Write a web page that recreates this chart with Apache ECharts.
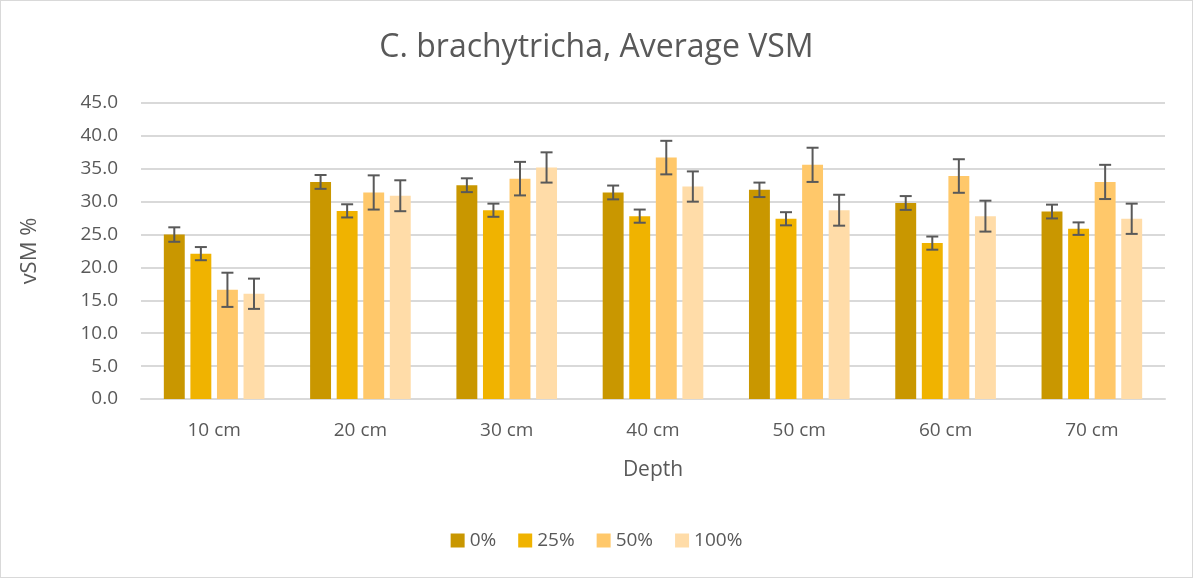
<!DOCTYPE html>
<html>
<head>
<meta charset="utf-8">
<script src="https://cdn.jsdelivr.net/npm/echarts@6/dist/echarts.min.js"></script>
<style>
  html, body { margin: 0; padding: 0; background: #fff; }
  #chart { width: 1193px; height: 578px; box-sizing: border-box; border: 1px solid #d9d9d9; }
</style>
</head>
<body>
<div id="chart"></div>
<script>
const depths = ["10 cm", "20 cm", "30 cm", "40 cm", "50 cm", "60 cm", "70 cm"];
const seriesNames = ["0%", "25%", "50%", "100%"];
const colors = ["#C99700", "#F0B300", "#FFC86A", "#FFDCA8"];

const vsm0 = [25.0, 33.0, 32.5, 31.4, 31.8, 29.8, 28.5];
const vsm25 = [22.1, 28.6, 28.7, 27.8, 27.4, 23.7, 25.9];
const vsm50 = [16.6, 31.4, 33.5, 36.7, 35.6, 33.9, 33.0];
const vsm100 = [16.0, 30.9, 35.2, 32.3, 28.7, 27.8, 27.4];

const err0 = [1.1, 1.05, 1.05, 1.05, 1.1, 1.05, 1.05];
const err25 = [1.0, 1.0, 1.0, 1.0, 1.0, 1.0, 0.95];
const err50 = [2.6, 2.6, 2.55, 2.55, 2.6, 2.55, 2.6];
const err100 = [2.3, 2.35, 2.3, 2.3, 2.35, 2.35, 2.3];

const values = [vsm0, vsm25, vsm50, vsm100];
const errors = [err0, err25, err50, err100];

const BAR_W = 0.143;  // fraction of category width
const BAR_GAP = 0.27; // fraction of bar width

let myChart = echarts.init(document.getElementById("chart"));

function errorSeries(idx) {
  let data = values[idx].map((v, i) => [i, v - errors[idx][i], v + errors[idx][i]]);
  return {
    type: "custom",
    name: seriesNames[idx],
    z: 10,
    silent: true,
    renderItem: function (params, api) {
      let band = api.size([1, 0])[0];
      let bw = band * BAR_W;
      let gap = bw * BAR_GAP;
      let groupW = 4 * bw + 3 * gap;
      let off = -groupW / 2 + bw / 2 + idx * (bw + gap);
      let lo = api.coord([api.value(0), api.value(1)]);
      let hi = api.coord([api.value(0), api.value(2)]);
      let x = lo[0] + off;
      let cap = 6;
      let style = { stroke: "#595959", lineWidth: 2 };
      return {
        type: "group",
        children: [
          { type: "line", shape: { x1: x, y1: lo[1], x2: x, y2: hi[1] }, style: style },
          { type: "line", shape: { x1: x - cap, y1: lo[1], x2: x + cap, y2: lo[1] }, style: style },
          { type: "line", shape: { x1: x - cap, y1: hi[1], x2: x + cap, y2: hi[1] }, style: style },
        ],
      };
    },
    data: data,
  };
}

let series = [];
for (let i = 0; i < 4; i++) {
  series.push({
    name: seriesNames[i],
    type: "bar",
    data: values[i],
    barWidth: (BAR_W * 100) + "%",
    barGap: (BAR_GAP * 100) + "%",
    itemStyle: { color: colors[i] },
  });
}
for (let i = 0; i < 4; i++) series.push(errorSeries(i));

var option = {
  animation: false,
  textStyle: { fontFamily: "Open Sans, Noto Sans, sans-serif", color: "#595959" },
  title: {
    text: "C. brachytricha, Average VSM",
    left: "center",
    top: 26,
    textStyle: { fontSize: 32, fontWeight: "normal", color: "#595959", fontFamily: "Open Sans, Noto Sans, sans-serif" },
  },
  legend: {
    data: seriesNames,
    bottom: 22,
    left: "center",
    itemWidth: 14,
    itemHeight: 14,
    itemGap: 22,
    icon: "rect",
    textStyle: { fontSize: 19, color: "#595959" },
  },
  grid: {
    left: 140,
    right: 27,
    top: 102,
    bottom: 178,
  },
  xAxis: {
    type: "category",
    data: depths,
    name: "Depth",
    nameLocation: "middle",
    nameGap: 61,
    nameTextStyle: { fontSize: 21, color: "#595959" },
    axisLine: { lineStyle: { color: "#d9d9d9", width: 2 } },
    axisTick: { show: false },
    axisLabel: { fontSize: 19, color: "#595959", margin: 22 },
  },
  yAxis: {
    type: "value",
    min: 0,
    max: 45,
    interval: 5,
    name: "vSM %",
    nameLocation: "middle",
    nameGap: 100,
    nameTextStyle: { fontSize: 22, color: "#595959" },
    axisLine: { show: false },
    axisTick: { show: false },
    axisLabel: {
      fontSize: 19,
      color: "#595959",
      margin: 23,
      formatter: (v) => v.toFixed(1),
    },
    splitLine: { lineStyle: { color: "#d9d9d9", width: 2 } },
  },
  series: series,
};

myChart.setOption(option);
</script>
</body>
</html>
